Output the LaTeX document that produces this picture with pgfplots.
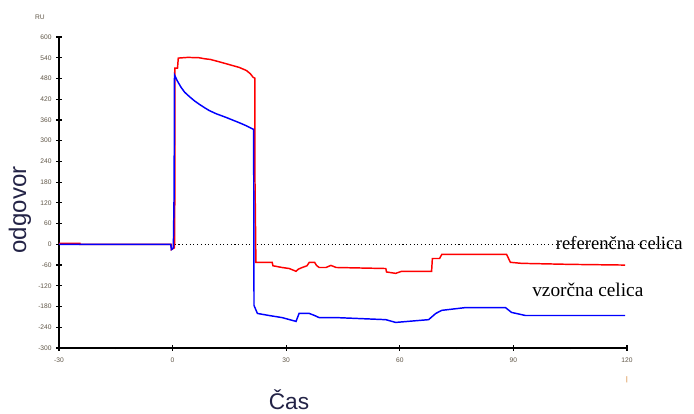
\documentclass[border=0pt]{standalone}
\usepackage{fontspec}
\setmainfont{Liberation Sans}
\newfontfamily\timesf{Liberation Serif}
\usepackage{pgfplots}
\pgfplotsset{compat=1.18}
\definecolor{ticktxt}{RGB}{95,85,70}
\definecolor{labtxt}{RGB}{35,35,70}
\begin{document}
\begin{tikzpicture}
\useasboundingbox (-44.25pt,-49.5pt) rectangle (476.25pt,261pt);
\begin{axis}[
    at={(0,0)}, anchor=south west,
    scale only axis,
    width=426pt, height=233.25pt,
    xmin=-30, xmax=120,
    ymin=-300, ymax=600,
    xtick={-30,0,30,60,90,120},
    minor x tick num=1,
    ytick={-300,-240,...,600},
    axis lines*=left,
    axis line style={-, line width=1.4pt},
    tick align=center,
    major tick length=4pt,
    minor tick length=2pt,
    every tick/.style={black, line width=0.9pt},
    tick label style={font=\fontsize{5}{6}\selectfont, text=ticktxt},
    xticklabel style={yshift=-2pt},
    /pgf/number format/assume math mode=true,
    clip mode=individual,
]
% zero line
\addplot[black, dotted, line width=0.8pt, forget plot, clip=false] coordinates {(-30,0) (133.5,0)};
% reference cell
\addplot[red, line width=1.1pt] coordinates {
(-30,3) (-24.5,3) (-24.5,0) (-0.3,0) (-0.3,-15) (0.5,-10) (0.6,160) (0.6,510)
(1.3,510) (1.5,539) (4,541) (7,540) (8.5,537) (10,535) (12.4,528) (15,520)
(17.6,512) (19.5,503) (20.5,494) (21.3,483) (21.7,481) (21.7,220) (21.8,150)
(22,-52) (26.3,-52) (26.5,-62) (28.9,-67) (30.8,-70) (32.6,-78) (33.2,-72)
(34,-68) (35.5,-62) (36.1,-52) (37.5,-52) (38,-61) (38.7,-67) (40.5,-67)
(41.8,-61) (43.2,-67) (56.3,-70) (56.5,-80) (58.9,-84) (60.5,-78) (68.4,-78)
(68.6,-41) (70.5,-41) (71.1,-29) (88.2,-29) (89.2,-52) (92.1,-55) (105,-58)
(119.5,-60)
};
% sample cell
\addplot[blue, line width=1.1pt] coordinates {
(-30,0) (-0.5,0) (-0.3,-15) (0.2,-10) (0.4,150) (0.5,490) (1.3,472) (2.2,455)
(3.2,440) (4.5,427) (5.8,415) (7.1,405) (8.5,395) (9.7,387) (11.5,378)
(14.2,367) (16,359) (17.6,352) (19.5,343) (21.1,334) (21.4,333)
(21.5,-177) (22.4,-200) (25.5,-206) (28.9,-212) (32.6,-223) (33.4,-200)
(36.1,-200) (37.5,-206) (38.7,-212) (43.2,-212) (56.3,-218) (58.9,-226)
(67.6,-218) (69.5,-200) (71.1,-191) (77.4,-183) (87.9,-183) (89.5,-197)
(93.2,-206) (119.5,-206)
};
\end{axis}
\node[font=\fontsize{5}{6}\selectfont, text=ticktxt] at (-14.25pt,248.25pt) {RU};
\node[font=\fontsize{18}{20}\selectfont, text=labtxt, rotate=90] at (-29.25pt,103.5pt) {odgovor};
\node[font=\fontsize{17}{19}\selectfont, text=labtxt] at (172.5pt,-38.5pt) {Čas};
\node[font=\fontsize{5}{6}\selectfont, text=orange!80!black] at (426pt,-24pt) {|};
\node[font=\timesf\fontsize{14}{16}\selectfont, anchor=east, inner sep=0pt] at (468pt,78.75pt) {referenčna celica};
\node[font=\timesf\fontsize{14.5}{16}\selectfont, anchor=west, inner sep=0pt] at (354.75pt,43.5pt) {vzorčna celica};
\end{tikzpicture}
\end{document}
